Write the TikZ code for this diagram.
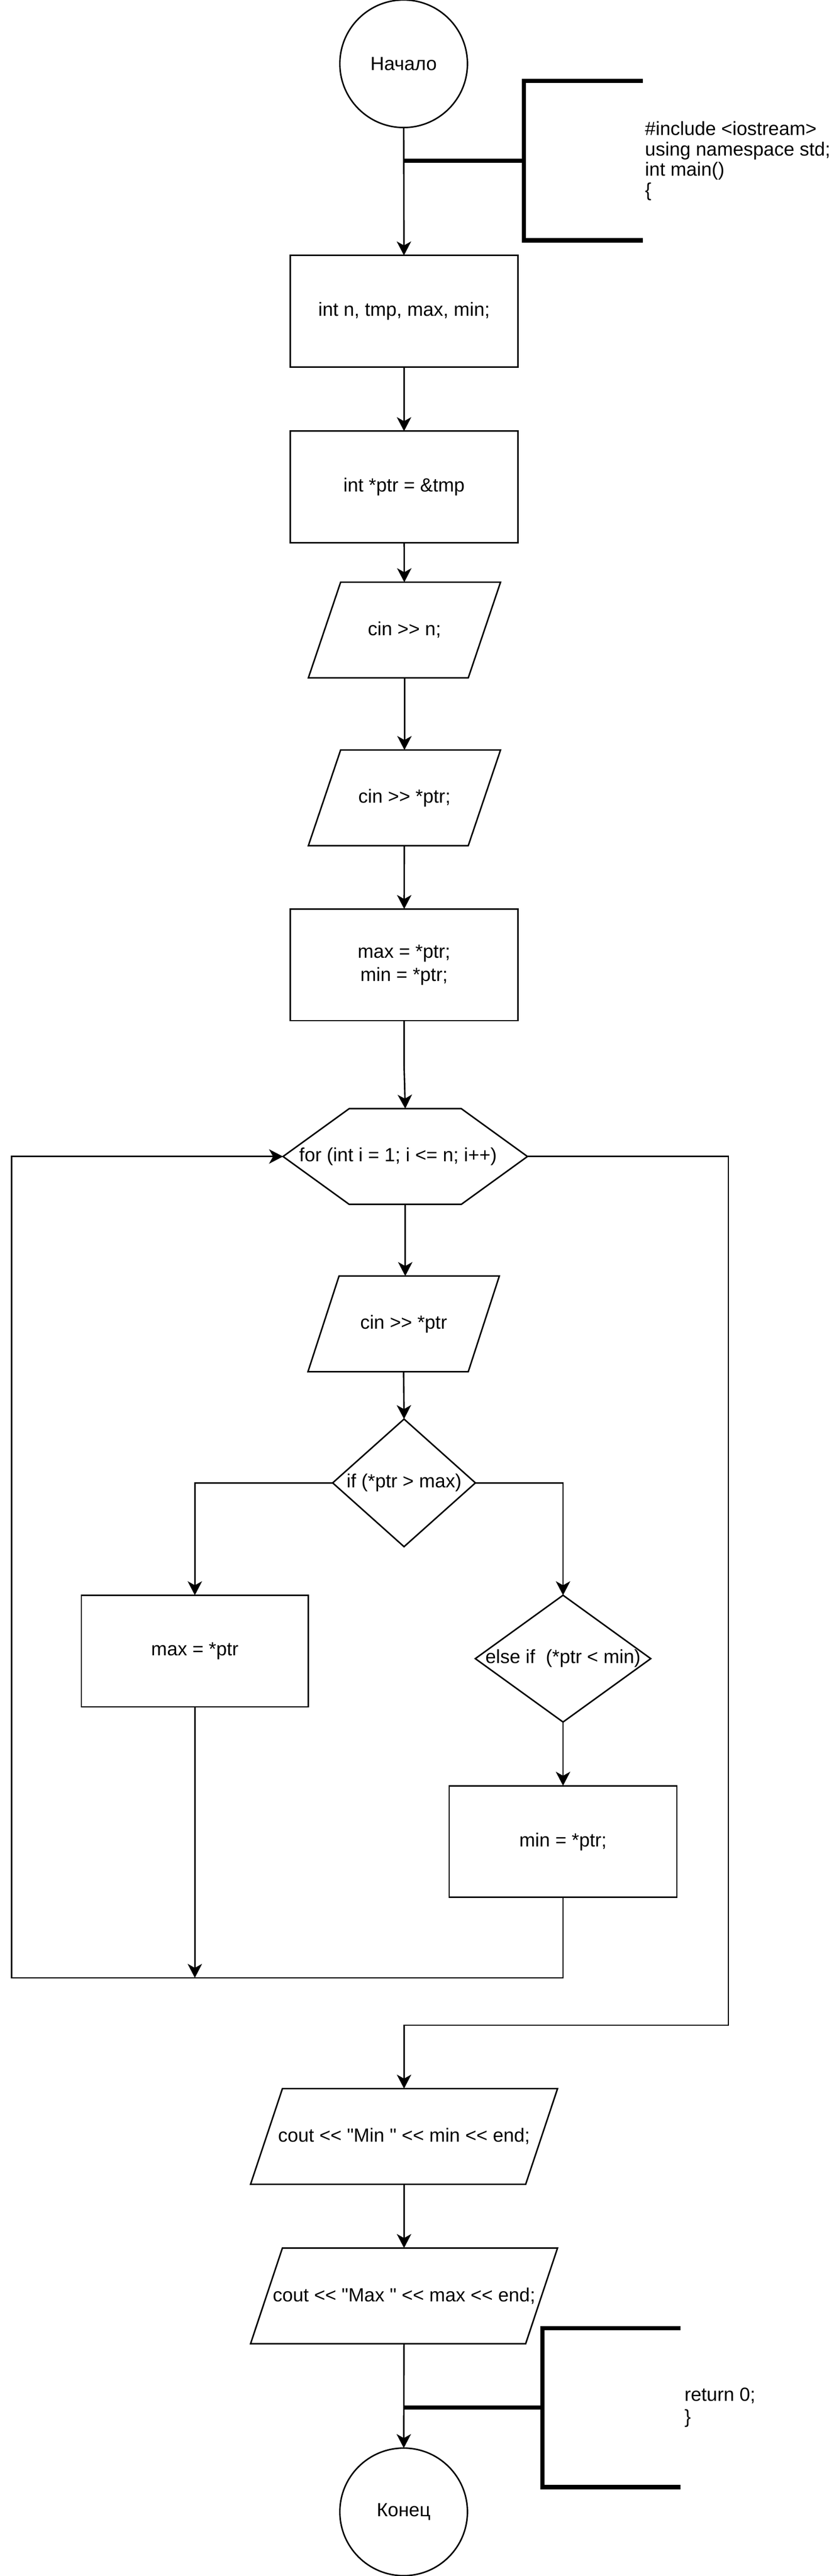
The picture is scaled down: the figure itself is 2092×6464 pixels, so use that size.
\documentclass[tikz,border=0pt]{standalone}
\usepackage{fontspec}
\setmainfont[Ligatures=TeXOff]{Liberation Sans}
\usepackage{tikz}
\usetikzlibrary{arrows.meta,positioning,calc}
\tikzstyle{term}=[draw,circle,minimum size=3.2cm,inner sep=0pt,outer sep=0pt]
\tikzstyle{block}=[draw,rectangle,minimum width=5.71cm,minimum height=2.8cm,inner sep=0pt,outer sep=0pt]
\tikzstyle{io}=[rectangle,minimum height=2.4cm,inner sep=0pt,outer sep=0pt]
\tikzstyle{cond}=[rectangle,inner sep=0pt,outer sep=0pt]
\tikzstyle{flow}=[-{Stealth[length=0.35cm,width=0.36cm,inset=0.1cm]}]
\tikzstyle{bracket}=[line width=3pt]

\begin{document}
\begin{tikzpicture}[x=0.01cm,y=-0.01cm,line width=1.05pt,
  every node/.style={font=\fontsize{13.6pt}{16.5pt}\selectfont,align=center}]
\useasboundingbox (0,0) rectangle (2092,6464);
% start
\node [term] (start) at (1013,160) {Начало};
\node [block] (decl) at (1014,781) {int n, tmp, max, min;};
\node [block] (ptr) at (1014,1222) {int *ptr = \&tmp};
\node [io,minimum width=4.82cm] (inn) at (1015,1581) {cin >> n;};
\node [io,minimum width=4.82cm] (inptr) at (1015,2002) {cin >> *ptr;};
\node [block] (init) at (1014,2421) {max = *ptr;\\min = *ptr;};
% loop
\node [cond,minimum width=6.13cm,minimum height=2.4cm] (loop) at (1017,2902) {for (int i = 1; i <= n; i++)\hspace{0.36cm}};
\node [io,minimum width=4.8cm] (read) at (1013,3322) {cin >> *ptr};
\node [cond,minimum width=3.58cm,minimum height=3.2cm] (ifmax) at (1014,3721) {if (*ptr > max)};
\node [block,minimum width=5.69cm] (setmax) at (489,4143) {max = *ptr};
\node [cond,minimum width=4.4cm,minimum height=3.18cm] (ifmin) at (1413,4162) {else if~ (*ptr < min)};
\node [block] (setmin) at (1413,4621) {min = *ptr;};
% output
\node [io,minimum width=7.7cm] (outmin) at (1014,5361) {cout << "Min " << min << end;};
\node [io,minimum width=7.7cm] (outmax) at (1014,5761) {cout << "Max " << max << end;};
\node [term] (stop) at (1013,6303) {Конец};
% comments
\node [anchor=west,align=left,inner sep=0pt,font=\fontsize{13.6pt}{14.5pt}\selectfont] (inc) at (1617,404) {\#include <iostream>\\using namespace std;\\int main()\\\{};
\node [anchor=west,align=left,inner sep=0pt,font=\fontsize{13.6pt}{15.5pt}\selectfont] (ret) at (1716,6041) {return 0;\\\}};
\coordinate (c1) at (1315,403);
\coordinate (c2) at (1361,6041);
\coordinate (lb) at (29,4963);
\coordinate (rb) at (1828,5082);

% shapes
\draw (inn.south west) -- ($(inn.north west)+(81,0)$) -- (inn.north east) -- ($(inn.south east)-(81,0)$) -- cycle;
\draw (inptr.south west) -- ($(inptr.north west)+(81,0)$) -- (inptr.north east) -- ($(inptr.south east)-(81,0)$) -- cycle;
\draw (read.south west) -- ($(read.north west)+(78,0)$) -- (read.north east) -- ($(read.south east)-(78,0)$) -- cycle;
\draw (outmin.south west) -- ($(outmin.north west)+(80,0)$) -- (outmin.north east) -- ($(outmin.south east)-(80,0)$) -- cycle;
\draw (outmax.south west) -- ($(outmax.north west)+(80,0)$) -- (outmax.north east) -- ($(outmax.south east)-(80,0)$) -- cycle;
\draw (loop.west) -- ($(loop.north west)+(166,0)$) -- ($(loop.north east)-(166,0)$) -- (loop.east)
  -- ($(loop.south east)-(166,0)$) -- ($(loop.south west)+(166,0)$) -- cycle;
\draw (ifmax.north) -- (ifmax.east) -- (ifmax.south) -- (ifmax.west) -- cycle;
\draw (ifmin.north) -- (ifmin.east) -- (ifmin.south) -- (ifmin.west) -- cycle;

% brackets
\draw [bracket] (1613,203) -- (c1 |- 0,203) -- (c1 |- 0,603) -- (1613,603);
\draw [bracket] (start.south |- c1) -- (c1);
\draw [bracket] (1708,5842) -- (c2 |- 0,5842) -- (c2 |- 0,6241) -- (1708,6241);
\draw [bracket] (outmax.south |- c2) -- (c2);

% connectors
\draw [flow] (start) -- (decl);
\draw [flow] (decl) -- (ptr);
\draw [flow] (ptr) -- (inn);
\draw [flow] (inn) -- (inptr);
\draw [flow] (inptr) -- (init);
\draw [flow] (init.south) -- ($(init.south)+(0,110)$) -- (loop.north);
\draw [flow] (loop.south) -- (read.north -| loop.south);
\draw [flow] (read.south) -- (ifmax.north);
\draw [flow] (ifmax.west) -| (setmax.north);
\draw [flow] (ifmax.east) -| (ifmin.north);
\draw [flow] (ifmin.south) -- (setmin.north);
\draw [flow] (setmax.south) -- (setmax.south |- lb);
\draw [flow] (setmin.south) |- (lb) |- (loop.west);
\draw [flow] (loop.east) -| (rb) -| (outmin.north);
\draw [flow] (outmin) -- (outmax);
\draw [flow] (outmax) -- (stop);
\end{tikzpicture}
\end{document}
